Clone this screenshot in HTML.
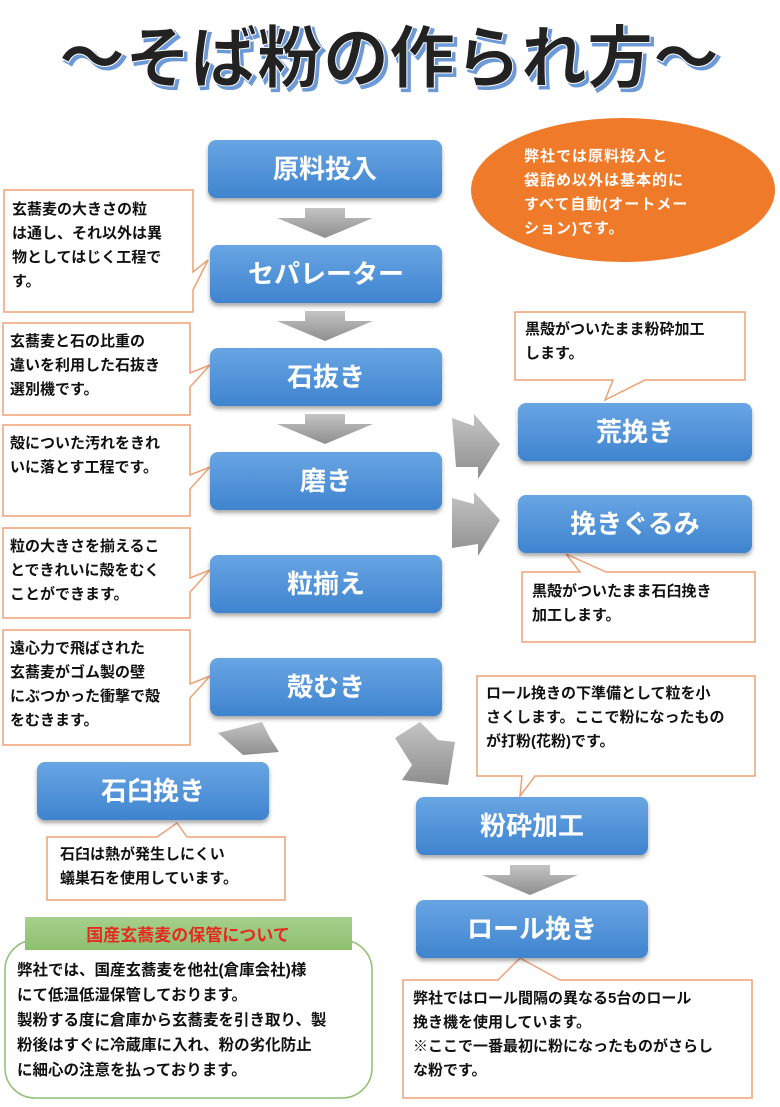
<!DOCTYPE html>
<html><head><meta charset="utf-8"><style>
body{margin:0;background:#fff}
svg text{font-family:"Liberation Sans","Noto Sans CJK JP",sans-serif}
.b{fill:#fff;font-size:26px;text-anchor:middle;font-weight:bold}
.t{fill:#111;font-size:15px;font-weight:bold}
.c{fill:#fff;stroke:#eda176;stroke-width:1.5}
</style></head><body>
<svg width="780" height="1102" viewBox="0 0 780 1102" xmlns="http://www.w3.org/2000/svg">
<defs>
<linearGradient id="bg" x1="0" y1="0" x2="0" y2="1"><stop offset="0" stop-color="#68a5e3"/><stop offset="1" stop-color="#3f84cf"/></linearGradient>
<linearGradient id="gg" x1="0" y1="0" x2="0" y2="1"><stop offset="0" stop-color="#a6d08c"/><stop offset="1" stop-color="#8dbf70"/></linearGradient>
<linearGradient id="ag" x1="0" y1="0" x2="0" y2="1"><stop offset="0" stop-color="#c4c4c4"/><stop offset="1" stop-color="#8e8e8e"/></linearGradient>
<filter id="sh" x="-10%" y="-10%" width="120%" height="140%"><feDropShadow dx="0" dy="3" stdDeviation="2" flood-color="#000" flood-opacity="0.35"/></filter>
</defs>

<!-- title -->
<text x="392" y="85" text-anchor="middle" font-size="68" font-weight="bold" fill="#6d99d6" stroke="#6d99d6" stroke-width="2" textLength="660" lengthAdjust="spacingAndGlyphs">～そば粉の作られ方～</text>
<text x="389" y="82" text-anchor="middle" font-size="68" font-weight="bold" fill="#222" stroke="#fff" stroke-width="1" textLength="660" lengthAdjust="spacingAndGlyphs">～そば粉の作られ方～</text>

<!-- orange ellipse -->
<ellipse cx="623" cy="190" rx="152" ry="72" fill="#ef7b2a"/>
<text fill="#fff" font-size="15" font-weight="bold" letter-spacing="1"><tspan x="524" y="161">弊社では原料投入と</tspan><tspan x="524" y="185">袋詰め以外は基本的に</tspan><tspan x="524" y="209">すべて自動(オートメー</tspan><tspan x="524" y="233">ション)です。</tspan></text>

<!-- arrows -->
<g fill="url(#ag)">
<path d="M305,208h40v10h28l-48,20l-48,-20h28z"/>
<path d="M305,311h40v10h28l-48,20l-48,-20h28z"/>
<path d="M305,414h40v10h28l-48,20l-48,-20h28z"/>
<path d="M510,865h40v10h28l-48,20l-48,-20h28z"/>
<path d="M452,418l22,8l0,-12l26,30l-22,35l0,-12l-22,0z"/>
<path d="M452,498l22,6l0,-12l26,28l-22,36l0,-12l-26,4z"/>
<path d="M218,733L262,722L270,738L279,752L243,755Z"/>
<path d="M395,738L420,722L438,740L455,742L448,785L402,780L412,765Z"/>
</g>

<!-- callouts -->
<path class="c" d="M4,190h189v82l15,-12l-15,30v22h-189z"/>
<text class="t"><tspan x="12" y="214">玄蕎麦の大きさの粒</tspan><tspan x="12" y="238">は通し、それ以外は異</tspan><tspan x="12" y="262">物としてはじく工程で</tspan><tspan x="12" y="286">す。</tspan></text>
<path class="c" d="M3,323h187v50l20,-8l-20,22v28h-187z"/>
<text class="t"><tspan x="10" y="346">玄蕎麦と石の比重の</tspan><tspan x="10" y="370">違いを利用した石抜き</tspan><tspan x="10" y="394">選別機です。</tspan></text>
<path class="c" d="M3,425h187v50l20,-8l-20,22v27h-187z"/>
<text class="t"><tspan x="10" y="448">殻についた汚れをきれ</tspan><tspan x="10" y="472">いに落とす工程です。</tspan></text>
<path class="c" d="M3,528h187v50l20,-8l-20,22v26h-187z"/>
<text class="t"><tspan x="10" y="551">粒の大きさを揃えるこ</tspan><tspan x="10" y="575">とできれいに殻をむく</tspan><tspan x="10" y="599">ことができます。</tspan></text>
<path class="c" d="M3,630h187v54l20,-8l-20,22v47h-187z"/>
<text class="t"><tspan x="10" y="653">遠心力で飛ばされた</tspan><tspan x="10" y="677">玄蕎麦がゴム製の壁</tspan><tspan x="10" y="701">にぶつかった衝撃で殻</tspan><tspan x="10" y="725">をむきます。</tspan></text>
<path class="c" d="M515,312h230v68h-100l-40,20l8,-20h-98z"/>
<text class="t"><tspan x="525" y="334">黒殻がついたまま粉砕加工</tspan><tspan x="525" y="358">します。</tspan></text>
<path class="c" d="M522,572h58l-14,-18l40,18h149v70h-233z"/>
<text class="t"><tspan x="532" y="596">黒殻がついたまま石臼挽き</tspan><tspan x="532" y="620">加工します。</tspan></text>
<path class="c" d="M477,676h278v100h-220l-15,20l2,-20h-45z"/>
<text class="t"><tspan x="486" y="698">ロール挽きの下準備として粒を小</tspan><tspan x="486" y="722">さくします。ここで粉になったもの</tspan><tspan x="486" y="746">が打粉(花粉)です。</tspan></text>
<path class="c" d="M47,837h110l20,-14l10,14h98v63h-238z"/>
<text class="t"><tspan x="60" y="859">石臼は熱が発生しにくい</tspan><tspan x="60" y="883">蟻巣石を使用しています。</tspan></text>
<path class="c" d="M403,980h95l22,-22l40,22h192v118h-349z"/>
<text class="t"><tspan x="413" y="1003">弊社ではロール間隔の異なる5台のロール</tspan><tspan x="413" y="1027">挽き機を使用しています。</tspan><tspan x="413" y="1051">※ここで一番最初に粉になったものがさらし</tspan><tspan x="413" y="1075">な粉です。</tspan></text>

<!-- green box -->
<rect x="5" y="940" width="367" height="158" rx="30" fill="#fff" stroke="#8dbf70" stroke-width="1.5"/>
<rect x="25" y="917" width="327" height="33" fill="url(#gg)"/>
<text x="188" y="941" text-anchor="middle" font-size="17" font-weight="bold" fill="#e52b1f">国産玄蕎麦の保管について</text>
<text class="t" style="font-size:15.5px"><tspan x="17" y="975">弊社では、国産玄蕎麦を他社(倉庫会社)様</tspan><tspan x="17" y="1000">にて低温低湿保管しております。</tspan><tspan x="17" y="1025">製粉する度に倉庫から玄蕎麦を引き取り、製</tspan><tspan x="17" y="1050">粉後はすぐに冷蔵庫に入れ、粉の劣化防止</tspan><tspan x="17" y="1075">に細心の注意を払っております。</tspan></text>

<!-- blue boxes -->
<g filter="url(#sh)" fill="url(#bg)">
<rect x="208" y="140" width="234" height="58" rx="8"/>
<rect x="210" y="245" width="232" height="58" rx="8"/>
<rect x="210" y="348" width="232" height="58" rx="8"/>
<rect x="210" y="452" width="232" height="58" rx="8"/>
<rect x="210" y="555" width="232" height="58" rx="8"/>
<rect x="210" y="658" width="232" height="58" rx="8"/>
<rect x="518" y="403" width="234" height="58" rx="8"/>
<rect x="518" y="495" width="234" height="58" rx="8"/>
<rect x="37" y="762" width="232" height="58" rx="8"/>
<rect x="416" y="797" width="232" height="58" rx="8"/>
<rect x="416" y="900" width="232" height="58" rx="8"/>
</g>
<text class="b" x="325" y="178">原料投入</text>
<text class="b" x="326" y="283">セパレーター</text>
<text class="b" x="326" y="386">石抜き</text>
<text class="b" x="326" y="490">磨き</text>
<text class="b" x="326" y="593">粒揃え</text>
<text class="b" x="326" y="696">殻むき</text>
<text class="b" x="635" y="441">荒挽き</text>
<text class="b" x="635" y="533">挽きぐるみ</text>
<text class="b" x="153" y="800">石臼挽き</text>
<text class="b" x="532" y="835">粉砕加工</text>
<text class="b" x="532" y="938">ロール挽き</text>
</svg>
</body></html>
